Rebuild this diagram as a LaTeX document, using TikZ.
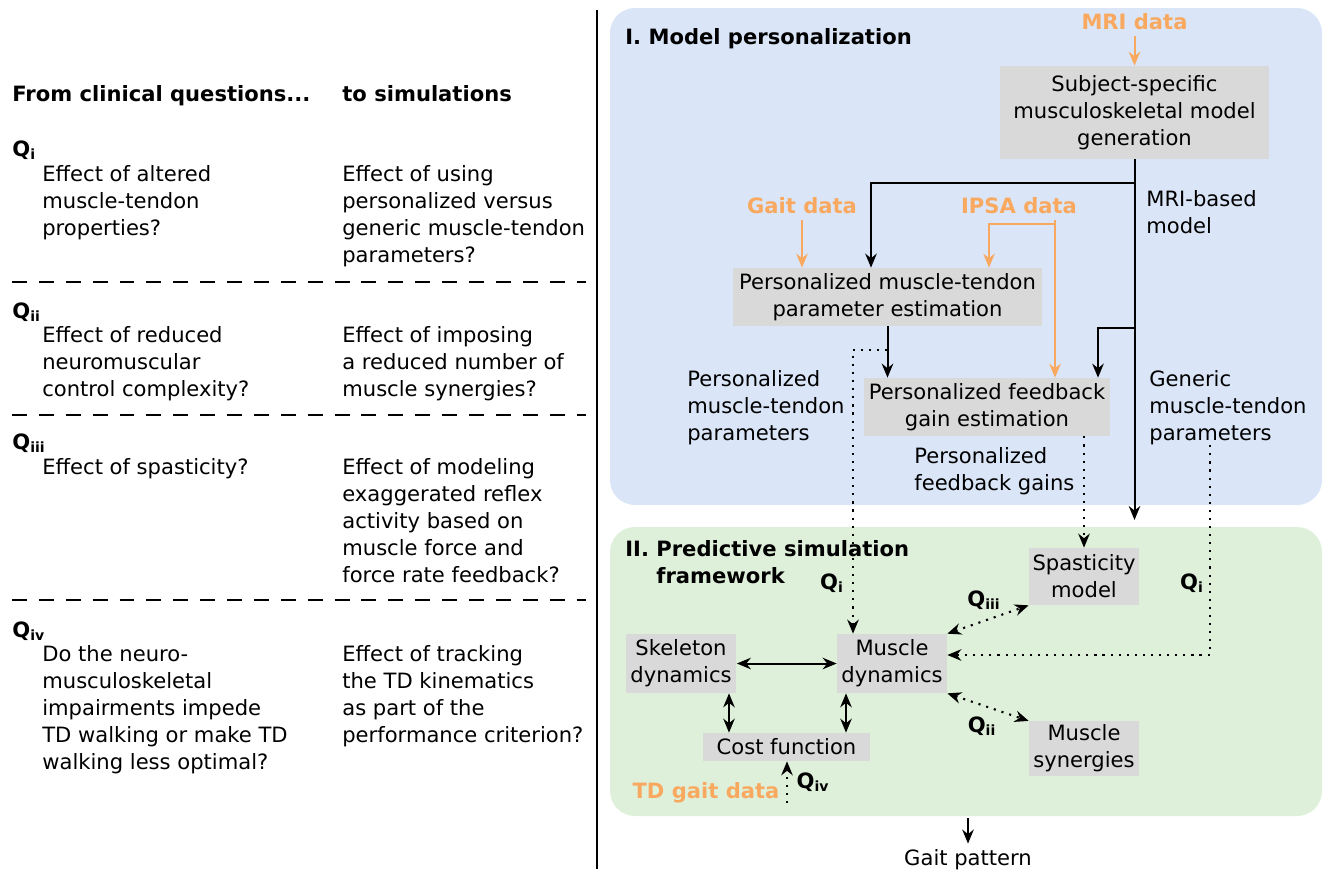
\documentclass[tikz,border=0pt]{standalone}
\usepackage{fontspec}
\setmainfont{DejaVu Sans}
\usepackage{xcolor}
\usepackage{tikz}
\usetikzlibrary{arrows.meta}
\definecolor{PanelBlue}{HTML}{DAE5F7}
\definecolor{PanelGreen}{HTML}{DFF0DA}
\definecolor{DataOrange}{HTML}{F9A95F}
\definecolor{BoxGrey}{HTML}{D9D9D9}
\newcommand{\qsub}[1]{\textbf{Q\textsubscript{#1}}}

\begin{document}
\begin{tikzpicture}[
  x=0.02cm,y=-0.02cm,
  font=\fontsize{12}{15.4}\selectfont,
  box/.style={fill=BoxGrey,inner sep=2pt,align=center},
  datalbl/.style={text=DataOrange,font=\fontsize{12}{15.4}\selectfont\bfseries},
  txt/.style={anchor=north west,align=left,inner sep=0pt},
  head/.style={anchor=base west,inner sep=0pt,font=\fontsize{12}{15.4}\selectfont\bfseries},
  sep/.style={dash pattern=on 8.5pt off 6.8pt,line width=0.9pt},
  arr/.style={-{Stealth[length=2.8mm,width=2.3mm]},line width=1.15pt},
  dblarr/.style={{Stealth[length=2.8mm,width=2.3mm]}-{Stealth[length=2.8mm,width=2.3mm]},line width=1.15pt},
  oarr/.style={-{Stealth[length=2.8mm,width=2.3mm]},line width=1.15pt,draw=DataOrange},
  darr/.style={-{Stealth[length=2.8mm,width=2.3mm]},line width=1.2pt,dash pattern=on 1.2pt off 3.4pt},
  ddbl/.style={{Stealth[length=2.8mm,width=2.3mm]}-{Stealth[length=2.8mm,width=2.3mm]},line width=1.2pt,dash pattern=on 1.2pt off 3.4pt}
]
\useasboundingbox (0,0) rectangle (1325,869);

% left column: questions and simulations
\node[head] (hq) at (12,101) {From clinical questions...};
\node[head] (hs) at (342,101) {to simulations};
\node[head] (q1) at (12,156) {\qsub{i}};
\node[txt] (q1a) at (42,165) {Effect of altered\\muscle-tendon\\properties?};
\node[txt] (q1b) at (342,165) {Effect of using\\personalized versus\\generic muscle-tendon\\parameters?};
\draw[sep] (12,282) -- (586,282);
\node[head] (q2) at (12,318) {\qsub{ii}};
\node[txt] (q2a) at (42,326) {Effect of reduced\\neuromuscular\\control complexity?};
\node[txt] (q2b) at (342,326) {Effect of imposing\\a reduced number of\\muscle synergies?};
\draw[sep] (12,415) -- (586,415);
\node[head] (q3) at (12,449) {\qsub{iii}};
\node[txt] (q3a) at (42,458) {Effect of spasticity?};
\node[txt] (q3b) at (342,458) {Effect of modeling\\exaggerated reflex\\activity based on\\muscle force and\\force rate feedback?};
\draw[sep] (12,600) -- (586,600);
\node[head] (q4) at (12,637) {\qsub{iv}};
\node[txt] (q4a) at (42,645) {Do the neuro-\\musculoskeletal\\impairments impede\\TD walking or make TD\\walking less optimal?};
\node[txt] (q4b) at (342,645) {Effect of tracking\\the TD kinematics\\as part of the\\performance criterion?};

\draw[line width=1.1pt] (597,10) -- (597,869);

% panels
\fill[PanelBlue,rounded corners=0.5cm] (610,8) rectangle (1322,505);
\fill[PanelGreen,rounded corners=0.5cm] (610,527) rectangle (1322,816);
\node[head] (t1) at (625,44) {I. Model personalization};
\node[head,anchor=north west,align=left] (t2) at (625,540) {II. Predictive simulation\\\hphantom{II. }framework};

% I. model personalization
\node[datalbl] (mri) at (1134.5,22) {MRI data};
\node[box,minimum width=5.38cm,minimum height=1.86cm] (subj) at (1134.5,112.5) {Subject-specific\\musculoskeletal model\\generation};
\node[datalbl] (gait) at (802,206) {Gait data};
\node[datalbl] (ipsa) at (1019,206) {IPSA data};
\node[txt] (mrib) at (1146,190) {MRI-based\\model};
\node[box,minimum width=6.18cm,minimum height=1.16cm] (pmt) at (887.5,297) {Personalized muscle-tendon\\parameter estimation};
\node[box,minimum width=4.92cm,minimum height=1.16cm] (pfg) at (987,407) {Personalized feedback\\gain estimation};
\node[txt] (pmtp) at (687,370) {Personalized\\muscle-tendon\\parameters};
\node[txt] (gen) at (1149,370) {Generic\\muscle-tendon\\parameters};
\node[txt] (fbg) at (914,447) {Personalized\\feedback gains};

% II. predictive simulation framework
\node[box,minimum width=2.2cm,minimum height=1.14cm] (spas) at (1084,576.5) {Spasticity\\model};
\node[box,minimum width=2.2cm,minimum height=1.18cm] (muscle) at (892,663.5) {Muscle\\dynamics};
\node[box,minimum width=2.22cm,minimum height=1.18cm] (skel) at (681,663.5) {Skeleton\\dynamics};
\node[box,minimum width=3.34cm,minimum height=0.56cm] (cost) at (786.5,747) {Cost function};
\node[box,minimum width=2.2cm,minimum height=1.06cm] (syn) at (1084,748.5) {Muscle\\synergies};
\node[datalbl] (td) at (706,793) {TD gait data};
\node (qa) at (832,583) {\qsub{i}};
\node (qb) at (1192,583) {\qsub{i}};
\node (qc) at (984,600) {\qsub{iii}};
\node (qd) at (982,726) {\qsub{ii}};
\node (qe) at (813,782) {\qsub{iv}};
\node (gp) at (968,860) {Gait pattern};

% connectors
\coordinate (mriend) at (1134.5,520);
\coordinate (jmri) at (1134.5,183);
\coordinate (jpmt) at (871,183);
\coordinate (jpfg) at (1134.5,328);
\coordinate (tpfg) at (1098,328);
\coordinate (jipsa) at (1055,224);
\coordinate (tipsa) at (989,224);
\coordinate (dq) at (853,350);
\coordinate (dg) at (1210,655);
\coordinate (cs) at (729,700);
\coordinate (cm) at (846,700);
\coordinate (tdq) at (787,803);
\coordinate (gpin) at (968,818);

\draw[oarr] (mri.south) -- (mri.south |- subj.north);
\draw[arr] (subj.south) -- (mriend);
\draw[arr] (jmri) -- (jpmt) -- (jpmt |- pmt.north);
\draw[arr] (jpfg) -- (tpfg) -- (tpfg |- pfg.north);
\draw[oarr] (gait.south) -- (gait.south |- pmt.north);
\draw[oarr] (ipsa.south -| jipsa) -- (jipsa |- pfg.north);
\draw[oarr] (jipsa) -- (tipsa) -- (tipsa |- pmt.north);
\draw[arr] (pmt.south) -- (pmt.south |- pfg.north);
\draw[darr] (pmt.south |- dq) -- (dq) -- (dq |- muscle.north);
\draw[darr] (pfg.south -| spas.north) -- (spas.north);
\draw[darr] (gen.south -| dg) -- (dg) -- (dg -| muscle.east);

\draw[dblarr] (skel) -- (muscle);
\draw[dblarr] (cs |- skel.south) -- (cs |- cost.north);
\draw[dblarr] (cm |- muscle.south) -- (cm |- cost.north);
\draw[ddbl] (muscle.north east) -- (spas.south west);
\draw[ddbl] (muscle.south east) -- (syn.north west);
\draw[darr] (tdq) -- (tdq |- cost.south);
\draw[arr] (gpin) -- (gp.north);
\end{tikzpicture}
\end{document}
